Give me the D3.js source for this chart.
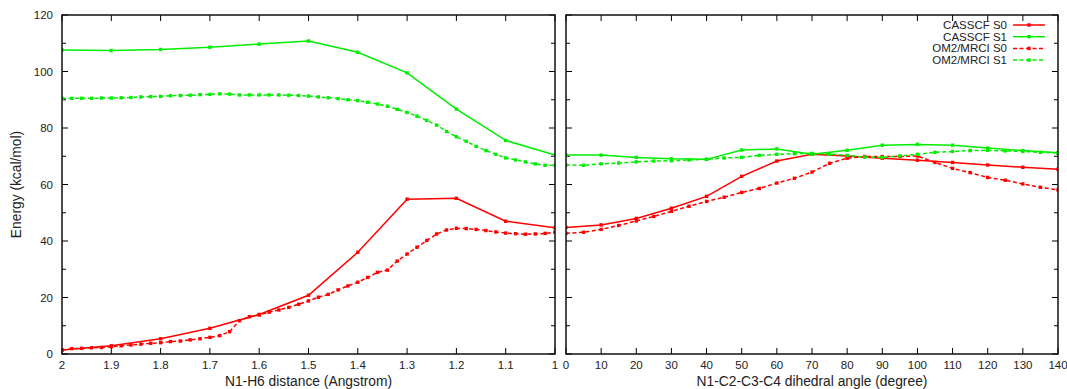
<!DOCTYPE html>
<html>
<head>
<meta charset="utf-8">
<script src="https://cdn.jsdelivr.net/npm/d3@7"></script>
<style>
  html, body { margin: 0; padding: 0; background: #fff; }
  svg { display: block; font-family: "Liberation Sans", Arial, sans-serif; }
</style>
</head>
<body>
<svg id="chart" width="1067" height="389"></svg>
<script>
// ---- data ----
const distCas = [2.0, 1.9, 1.8, 1.7, 1.6, 1.5, 1.4, 1.3, 1.2, 1.1, 1.0];
const casS0Dist = [1.4, 2.9, 5.4, 9.1, 14.0, 20.8, 36.0, 54.8, 55.1, 47.0, 44.7];
const casS1Dist = [107.6, 107.4, 107.8, 108.6, 109.7, 110.8, 106.8, 99.5, 86.7, 75.6, 70.4];

const distOm = [2.00, 1.98, 1.96, 1.94, 1.92, 1.90, 1.88, 1.86, 1.84, 1.82,
  1.80, 1.78, 1.76, 1.74, 1.72, 1.70, 1.68, 1.66, 1.64, 1.62,
  1.60, 1.58, 1.56, 1.54, 1.52, 1.50, 1.48, 1.46, 1.44, 1.42,
  1.40, 1.38, 1.36, 1.34, 1.32, 1.30, 1.28, 1.26, 1.24, 1.22,
  1.20, 1.18, 1.16, 1.14, 1.12, 1.10, 1.08, 1.06, 1.04, 1.02, 1.00];
const omS0Dist = [1.4, 1.9, 2.0, 2.2, 2.3, 2.6, 2.9, 3.2, 3.5, 3.8,
  4.0, 4.4, 4.6, 5.0, 5.4, 5.9, 6.5, 7.9, 11.8, 13.2,
  13.8, 14.8, 15.6, 16.5, 17.6, 18.8, 20.1, 21.1, 22.7, 24.1,
  25.4, 27.1, 28.9, 29.7, 32.9, 35.4, 37.8, 40.2, 42.5, 43.9,
  44.5, 44.4, 44.1, 43.7, 43.2, 42.8, 42.6, 42.4, 42.5, 42.7, 43.1];
const omS1Dist = [90.5, 90.5, 90.5, 90.5, 90.6, 90.6, 90.7, 90.8, 91.0, 91.1,
  91.2, 91.4, 91.5, 91.6, 91.8, 91.9, 92.1, 92.0, 91.7, 91.7,
  91.7, 91.7, 91.7, 91.6, 91.5, 91.3, 91.0, 90.7, 90.4, 90.0,
  89.7, 89.1, 88.5, 87.7, 86.6, 85.5, 84.2, 82.7, 81.0, 78.8,
  76.9, 75.3, 73.5, 72.0, 70.7, 69.4, 68.7, 68.0, 67.3, 66.8, 66.8];

const angCas = [0, 10, 20, 30, 40, 50, 60, 70, 80, 90, 100, 110, 120, 130, 140];
const casS0Ang = [44.8, 45.7, 48.0, 51.6, 55.8, 62.9, 68.3, 70.7, 70.1, 69.3, 68.6, 67.8, 66.9, 66.1, 65.4];
const casS1Ang = [70.4, 70.4, 69.6, 69.1, 68.9, 72.2, 72.6, 70.7, 72.1, 73.9, 74.2, 73.9, 72.9, 72.0, 71.2];

const angOm = [0, 5, 10, 15, 20, 25, 30, 35, 40, 45, 50, 55, 60, 65, 70,
  75, 80, 85, 90, 95, 100, 105, 110, 115, 120, 125, 130, 135, 140];
const omS0Ang = [42.7, 43.1, 44.1, 45.5, 47.1, 48.7, 50.5, 52.3, 54.0, 55.5, 57.2, 58.6, 60.5, 62.2, 64.4,
  67.5, 69.3, 69.9, 69.9, 69.9, 70.1, 67.8, 65.7, 64.2, 62.5, 61.5, 60.2, 59.0, 58.1];
const omS1Ang = [66.9, 66.8, 67.3, 67.6, 68.0, 68.3, 68.4, 68.7, 68.9, 69.4, 69.6, 70.3, 70.7, 70.9, 71.0,
  70.8, 70.3, 69.7, 69.6, 70.1, 70.7, 71.4, 71.7, 72.0, 72.1, 71.9, 71.7, 71.4, 71.2];

const seriesNames = ["CASSCF S0", "CASSCF S1", "OM2/MRCI S0", "OM2/MRCI S1"];
const yTicks = [0, 20, 40, 60, 80, 100, 120];
const distTicks = [2, 1.9, 1.8, 1.7, 1.6, 1.5, 1.4, 1.3, 1.2, 1.1, 1];
const angTicks = [0, 10, 20, 30, 40, 50, 60, 70, 80, 90, 100, 110, 120, 130, 140];

// ---- styles ----
const RED = "#ff0000", GREEN = "#00ee00";
const styles = [
  { color: RED, dash: null },
  { color: GREEN, dash: null },
  { color: RED, dash: "4,2.5" },
  { color: GREEN, dash: "4,2.5" }
];

const svg = d3.select("#chart");
const plotTop = 15, plotBottom = 354;
const y = d3.scaleLinear().domain([0, 120]).range([plotBottom, plotTop]);

const panels = [
  {
    x: d3.scaleLinear().domain([2, 1]).range([62, 555]),
    ticks: distTicks, fmt: d3.format("~g"), yLabels: true,
    title: "N1-H6 distance (Angstrom)",
    series: [
      [distCas, casS0Dist], [distCas, casS1Dist], [distOm, omS0Dist], [distOm, omS1Dist]
    ]
  },
  {
    x: d3.scaleLinear().domain([0, 140]).range([566, 1058]),
    ticks: angTicks, fmt: d3.format("d"), yLabels: false,
    title: "N1-C2-C3-C4 dihedral angle (degree)",
    series: [
      [angCas, casS0Ang], [angCas, casS1Ang], [angOm, omS0Ang], [angOm, omS1Ang]
    ]
  }
];

const minorY = [10, 30, 50, 70, 90, 110];

panels.forEach((p, pi) => {
  const [x0, x1] = p.x.range();
  const g = svg.append("g");
  const clipId = "clip" + pi;
  svg.append("clipPath").attr("id", clipId)
    .append("rect").attr("x", x0).attr("y", plotTop).attr("width", x1 - x0).attr("height", plotBottom - plotTop);

  // ticks (mirrored on all four sides, pointing inwards)
  const tk = g.append("g").attr("stroke", "#000").attr("stroke-width", 1);
  yTicks.forEach(v => {
    tk.append("line").attr("x1", x0).attr("x2", x0 + 6).attr("y1", y(v)).attr("y2", y(v));
    tk.append("line").attr("x1", x1).attr("x2", x1 - 6).attr("y1", y(v)).attr("y2", y(v));
  });
  minorY.forEach(v => {
    tk.append("line").attr("x1", x0).attr("x2", x0 + 4).attr("y1", y(v)).attr("y2", y(v));
    tk.append("line").attr("x1", x1).attr("x2", x1 - 4).attr("y1", y(v)).attr("y2", y(v));
  });
  p.ticks.forEach(v => {
    tk.append("line").attr("x1", p.x(v)).attr("x2", p.x(v)).attr("y1", plotBottom).attr("y2", plotBottom - 6);
    tk.append("line").attr("x1", p.x(v)).attr("x2", p.x(v)).attr("y1", plotTop).attr("y2", plotTop + 6);
  });

  // tick labels
  g.append("g").selectAll("text").data(p.ticks).join("text")
    .attr("x", d => p.x(d)).attr("y", 369)
    .attr("text-anchor", "middle").attr("font-size", 11.5).attr("fill", "#222")
    .text(p.fmt);
  if (p.yLabels) {
    g.append("g").selectAll("text").data(yTicks).join("text")
      .attr("x", 53).attr("y", d => y(d) + 4)
      .attr("text-anchor", "end").attr("font-size", 11.5).attr("fill", "#222")
      .text(d => d);
  }
  g.append("text").attr("x", (x0 + x1) / 2).attr("y", 386)
    .attr("text-anchor", "middle").attr("font-size", 13.8).attr("fill", "#222")
    .text(p.title);

  // series
  const line = d3.line().x(d => p.x(d[0])).y(d => y(d[1]));
  const sg = g.append("g").attr("clip-path", `url(#${clipId})`);
  p.series.forEach((s, i) => {
    const pts = s[0].map((xv, k) => [xv, s[1][k]]);
    sg.append("path").datum(pts).attr("d", line)
      .attr("fill", "none").attr("stroke", styles[i].color).attr("stroke-width", 1.5)
      .attr("stroke-dasharray", styles[i].dash);
    sg.append("g").selectAll("rect").data(pts).join("rect")
      .attr("x", d => p.x(d[0]) - 1.7).attr("y", d => y(d[1]) - 1.7)
      .attr("width", 3.4).attr("height", 3.4).attr("fill", styles[i].color);
  });

  // frame
  g.append("rect").attr("x", x0).attr("y", plotTop).attr("width", x1 - x0).attr("height", plotBottom - plotTop)
    .attr("fill", "none").attr("stroke", "#111").attr("stroke-width", 1.5);
});

// y axis title
svg.append("text").attr("transform", `translate(21,${(plotTop + plotBottom) / 2}) rotate(-90)`)
  .attr("text-anchor", "middle").attr("font-size", 13.8).attr("fill", "#222")
  .text("Energy (kcal/mol)");

// legend
const legend = svg.append("g");
seriesNames.forEach((name, i) => {
  const ly = 25 + i * 11.7;
  legend.append("text").attr("x", 1007).attr("y", ly + 4)
    .attr("text-anchor", "end").attr("font-size", 11.5).attr("fill", "#222").text(name);
  legend.append("line").attr("x1", 1013).attr("x2", 1045).attr("y1", ly).attr("y2", ly)
    .attr("stroke", styles[i].color).attr("stroke-width", 1.5)
    .attr("stroke-dasharray", styles[i].dash);
  legend.append("rect").attr("x", 1029 - 1.7).attr("y", ly - 1.7)
    .attr("width", 3.4).attr("height", 3.4).attr("fill", styles[i].color);
});
</script>
</body>
</html>
